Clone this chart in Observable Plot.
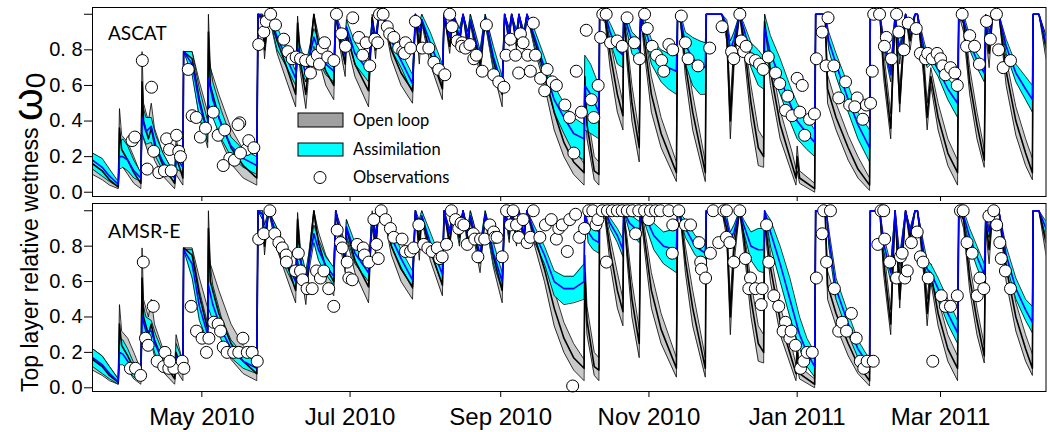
<!DOCTYPE html>
<html><head><meta charset="utf-8">
<script src="https://cdn.jsdelivr.net/npm/d3@7"></script>
<script src="https://cdn.jsdelivr.net/npm/@observablehq/plot@0.6"></script>
<style>
html,body{margin:0;padding:0;background:#fff;}
#chart{position:relative;width:1050px;height:432px;overflow:hidden;background:#fff;}
#chart svg{position:absolute;left:0;}
</style></head><body><div id="chart"></div>
<script>
// Days since 17 Mar 2010
const startDate = Date.UTC(2010, 2, 17);
const endDay = 392.4;

// Open loop ensemble: [day, low, mean, high] (same model run in both panels)
const openLoop = [
[0,0.10,0.16,0.22],[4,0.07,0.12,0.18],[7,0.04,0.07,0.12],[10.6,0.02,0.03,0.05],
[11.1,0.25,0.36,0.47],[12,0.15,0.24,0.32],[14.5,0.10,0.18,0.28],[17,0.05,0.11,0.20],[19.9,0.02,0.05,0.10],
[20.4,0.45,0.62,0.79],[21,0.30,0.40,0.50],[23,0.22,0.30,0.40],[24.2,0.25,0.36,0.50],[25.5,0.18,0.27,0.36],[29,0.09,0.15,0.22],[33.8,0.02,0.05,0.10],
[34.4,0.10,0.20,0.30],[37.2,0.04,0.08,0.14],
[37.5,0.79,0.79,0.79],[41,0.68,0.75,0.79],[44,0.42,0.52,0.62],[47.4,0.25,0.33,0.45],
[47.7,0.80,0.90,1.00],[48.5,0.50,0.60,0.70],[52,0.32,0.42,0.55],[57,0.16,0.25,0.36],[62,0.08,0.15,0.24],[67.6,0.04,0.08,0.13],
[68.1,1,1,1],[70,0.95,0.98,1],[70.8,0.75,0.80,0.90],[72.5,1,1,1],[76,0.78,0.85,0.90],[80,0.62,0.70,0.77],[83.6,0.48,0.55,0.62],
[84.4,0.90,0.95,0.99],[85.5,0.68,0.74,0.80],[87.8,0.47,0.55,0.62],
[91.1,1,1,1],[93,0.75,0.82,0.88],[96,0.60,0.68,0.75],[99.3,0.52,0.60,0.67],
[100.1,1,1,1],[102,0.80,0.85,0.90],[104,0.65,0.72,0.78],[104.5,0.85,0.90,0.95],[108,0.65,0.72,0.78],[113.6,0.48,0.57,0.64],
[115.1,0.95,0.98,1],[116.5,0.75,0.80,0.85],[117.8,1,1,1],[119.5,1,1,1],[123,0.75,0.80,0.86],[127,0.60,0.67,0.73],[131.7,0.50,0.57,0.63],
[132.9,1,1,1],[134.5,0.72,0.80,0.88],[135.5,0.95,0.97,1],[139,0.72,0.78,0.84],[144,0.52,0.58,0.65],
[144.7,1,1,1],[147,0.78,0.82,0.88],[148.5,1,1,1],[151,0.80,0.85,0.90],[152.5,1,1,1],[154.5,0.78,0.84,0.90],[155.5,0.95,0.97,1],[159.5,0.65,0.72,0.78],
[161.6,0.95,0.98,1],[165,0.68,0.74,0.80],[168.6,0.48,0.55,0.62],
[169.6,1,1,1],[171.5,0.82,0.87,0.92],[172.5,1,1,1],[174.5,0.80,0.85,0.90],[175.5,1,1,1],[177.5,0.80,0.85,0.90],[178.8,1,1,1],
[182,0.80,0.85,0.90],[186,0.60,0.67,0.74],[190,0.35,0.45,0.55],[194,0.20,0.28,0.37],[198,0.10,0.17,0.25],[202.3,0.04,0.11,0.16],
[202.6,0.55,0.65,0.75],[203.5,0.30,0.38,0.46],[206.5,0.07,0.12,0.20],[208.4,0.04,0.10,0.17],
[208.7,1,1,1],[211,0.95,0.98,1],[213,0.70,0.78,0.85],[216,0.45,0.55,0.65],[218.3,0.35,0.43,0.50],
[218.6,1,1,1],[220,0.72,0.78,0.85],[222,0.40,0.50,0.60],[225,0.17,0.25,0.33],
[225.6,1,1,1],[227,0.80,0.86,0.92],[230,0.45,0.55,0.65],[234,0.25,0.33,0.42],[240.3,0.06,0.11,0.17],
[240.8,1,1,1],[242,0.95,0.98,1],[244,0.65,0.72,0.80],[247,0.35,0.45,0.55],[252.2,0.06,0.11,0.17],
[252.6,1,1,1],[259,1,1,1],[261,0.85,0.90,0.95],[262.5,0.30,0.40,0.50],[264,0.70,0.78,0.85],
[266.3,1,1,1],[268,0.80,0.86,0.90],[271,0.40,0.50,0.60],[274,0.15,0.25,0.35],[276.2,0.14,0.20,0.30],
[276.6,0.92,0.96,1],[279,0.60,0.68,0.76],[283,0.30,0.38,0.46],[288,0.10,0.15,0.22],[289.5,0.04,0.08,0.13],[290,0.12,0.20,0.26],[291,0.05,0.08,0.12],[297.2,0.00,0.02,0.05],
[297.6,1,1,1],[301.5,1,1,1],[302.5,0.50,0.58,0.66],[306,0.35,0.42,0.50],[311,0.18,0.25,0.32],[315,0.08,0.13,0.20],[319.8,0.01,0.04,0.08],
[320.1,1,1,1],[324,1,1,1],[325.5,0.65,0.72,0.80],[328.5,0.30,0.36,0.44],
[330.3,1,1,1],[332.2,0.45,0.50,0.58],[334.6,1,1,1],[336.5,0.80,0.85,0.90],[338.5,1,1,1],[339.5,1,1,1],
[342,0.65,0.72,0.80],[343.5,0.35,0.42,0.50],[345,0.60,0.65,0.70],[348,0.35,0.42,0.50],[352,0.15,0.22,0.30],[356,0.04,0.11,0.18],
[356.5,1,1,1],[358.5,0.90,0.95,1],[361,0.55,0.62,0.70],[364,0.30,0.38,0.45],[367,0.14,0.18,0.24],
[367.6,0.90,0.95,1],[369,0.70,0.78,0.85],[370.5,1,1,1],[373,1,1,1],[376,0.60,0.68,0.75],[380,0.32,0.40,0.48],[384,0.15,0.22,0.30],[386.8,0.07,0.11,0.19],
[387.1,1,1,1],[389.5,1,1,1],[392.4,0.75,0.82,0.88]
];

// Assimilation of ASCAT: [day, low, mean, high]
const assimASCAT = [
[0,0.13,0.18,0.22],[4,0.09,0.14,0.19],[7,0.06,0.09,0.13],[10.6,0.03,0.045,0.06],
[11.1,0.13,0.20,0.28],[12.5,0.14,0.20,0.30],[14.5,0.12,0.18,0.26],[17,0.08,0.12,0.18],[19.9,0.06,0.08,0.11],
[20.4,0.33,0.42,0.50],[22,0.27,0.34,0.42],[24.2,0.28,0.37,0.42],[26,0.20,0.26,0.32],[29,0.12,0.17,0.22],[33.8,0.06,0.08,0.10],
[34.4,0.13,0.20,0.27],[37.2,0.11,0.14,0.18],
[37.5,0.79,0.79,0.79],[41,0.66,0.72,0.79],[44,0.42,0.50,0.58],[47.4,0.28,0.33,0.40],
[47.7,0.50,0.64,0.78],[49.5,0.42,0.52,0.62],[53,0.30,0.38,0.46],[57,0.20,0.26,0.31],[62,0.14,0.19,0.24],[67.6,0.10,0.15,0.20],
[68.1,1,1,1],[70,0.97,0.99,1],[70.8,0.85,0.90,0.95],[72.5,1,1,1],[76,0.80,0.87,0.93],[80,0.70,0.75,0.80],[83.6,0.60,0.64,0.68],
[84.4,0.75,0.81,0.87],[85.5,0.70,0.76,0.82],[87.8,0.62,0.67,0.72],
[91.1,0.82,0.87,0.92],[93,0.74,0.80,0.86],[96,0.66,0.72,0.78],[99.3,0.62,0.68,0.73],
[100.1,1,1,1],[102,0.82,0.88,0.93],[104,0.72,0.77,0.82],[104.5,0.88,0.93,0.97],[108,0.72,0.78,0.84],[113.6,0.62,0.68,0.72],
[115.1,0.90,0.95,0.98],[116.5,0.80,0.85,0.88],[117.8,1,1,1],[119.5,1,1,1],[123,0.80,0.85,0.90],[127,0.70,0.74,0.79],[131.7,0.56,0.61,0.66],
[132.9,1,1,1],[134.5,0.85,0.90,0.95],[135.5,0.95,0.97,1],[139,0.78,0.84,0.90],[144,0.60,0.66,0.72],
[144.7,1,1,1],[147,0.82,0.87,0.90],[148.5,1,1,1],[151,0.82,0.87,0.92],[152.5,1,1,1],[154.5,0.80,0.86,0.90],[155.5,0.95,0.97,1],[159.5,0.70,0.76,0.80],
[161.6,0.95,0.98,1],[165,0.70,0.76,0.82],[168.6,0.55,0.60,0.65],
[169.6,1,1,1],[171.5,0.84,0.88,0.92],[172.5,1,1,1],[174.5,0.82,0.87,0.91],[175.5,1,1,1],[177.5,0.82,0.87,0.91],[178.8,1,1,1],
[182,0.82,0.87,0.91],[186,0.64,0.70,0.76],[190,0.45,0.52,0.60],[194,0.33,0.42,0.50],[198,0.22,0.33,0.42],[202.3,0.18,0.30,0.38],
[202.6,0.35,0.60,0.77],[205,0.33,0.55,0.72],[208.4,0.30,0.45,0.60],
[208.7,1,1,1],[211,1,1,1],[213,0.85,0.90,0.95],[216,0.72,0.80,0.86],[218.3,0.70,0.77,0.84],
[218.6,1,1,1],[220,0.90,0.94,0.98],[222,0.78,0.85,0.90],[225,0.72,0.80,0.86],
[225.6,1,1,1],[227,0.90,0.94,0.98],[230,0.72,0.80,0.86],[234,0.62,0.73,0.80],[237,0.58,0.70,0.78],[240.3,0.55,0.68,0.80],
[240.8,1,1,1],[242,0.95,0.98,1],[244,0.72,0.83,0.90],[247,0.60,0.75,0.87],[250,0.55,0.72,0.85],[252.2,0.55,0.70,0.84],
[252.6,1,1,1],[259,1,1,1],[261,0.90,0.94,0.97],[262.5,0.75,0.80,0.85],[264,0.82,0.86,0.90],
[266.3,1,1,1],[268,0.88,0.92,0.95],[271,0.70,0.77,0.84],[274,0.60,0.72,0.80],[276.2,0.58,0.68,0.76],
[276.6,0.80,0.92,1],[279,0.68,0.78,0.88],[283,0.55,0.64,0.75],[287,0.40,0.50,0.60],[290,0.30,0.40,0.50],[294,0.24,0.33,0.42],[297.2,0.20,0.28,0.35],
[297.6,1,1,1],[301.5,1,1,1],[303,0.80,0.85,0.90],[306,0.65,0.72,0.78],[311,0.45,0.52,0.60],[315,0.30,0.38,0.45],[319.8,0.17,0.25,0.35],
[320.1,1,1,1],[324,1,1,1],[325.5,0.82,0.85,0.88],[328.5,0.62,0.66,0.70],
[330.3,1,1,1],[332.2,0.72,0.77,0.82],[334.6,1,1,1],[336.5,0.88,0.90,0.93],[338.5,1,1,1],[339.5,1,1,1],
[342,0.78,0.82,0.86],[343.5,0.70,0.74,0.78],[345,0.72,0.76,0.80],[348,0.65,0.69,0.74],[352,0.52,0.58,0.64],[356,0.42,0.50,0.58],
[356.5,1,1,1],[358.5,0.95,0.97,1],[361,0.80,0.84,0.88],[364,0.70,0.74,0.78],[367,0.62,0.67,0.72],
[367.6,0.90,0.95,1],[369,0.82,0.86,0.90],[370.5,1,1,1],[373,1,1,1],[376,0.78,0.82,0.86],[380,0.62,0.67,0.72],[384,0.52,0.58,0.65],[386.8,0.45,0.52,0.60],
[387.1,1,1,1],[389.5,1,1,1],[392.4,0.80,0.84,0.88]
];

// Assimilation of AMSR-E: [day, low, mean, high]
const assimAMSRE = [
[0,0.12,0.17,0.22],[4,0.08,0.13,0.18],[7,0.05,0.08,0.12],[10.6,0.02,0.035,0.05],
[11.1,0.13,0.20,0.28],[12.5,0.13,0.19,0.27],[14.5,0.10,0.15,0.22],[17,0.06,0.10,0.14],[19.9,0.04,0.06,0.09],
[20.4,0.30,0.40,0.50],[22,0.25,0.32,0.40],[24.2,0.26,0.32,0.38],[26,0.18,0.24,0.30],[29,0.11,0.15,0.20],[33.8,0.07,0.08,0.10],
[34.4,0.12,0.18,0.25],[37.2,0.08,0.11,0.15],
[37.5,0.78,0.78,0.78],[41,0.62,0.70,0.78],[44,0.38,0.46,0.55],[47.4,0.26,0.30,0.36],
[47.7,0.45,0.58,0.78],[49.5,0.38,0.47,0.58],[53,0.27,0.33,0.40],[57,0.17,0.22,0.27],[62,0.11,0.15,0.19],[67.6,0.08,0.11,0.15],
[68.1,1,1,1],[70,0.95,0.98,1],[70.8,0.80,0.86,0.92],[72.5,1,1,1],[76,0.78,0.84,0.90],[80,0.66,0.71,0.76],[83.6,0.56,0.60,0.64],
[84.4,0.72,0.78,0.84],[85.5,0.66,0.72,0.78],[87.8,0.56,0.61,0.66],
[91.1,0.82,0.87,0.92],[93,0.72,0.78,0.84],[96,0.64,0.69,0.74],[99.3,0.58,0.63,0.68],
[100.1,1,1,1],[102,0.82,0.87,0.92],[104,0.70,0.75,0.80],[104.5,0.86,0.91,0.95],[108,0.70,0.76,0.82],[113.6,0.60,0.65,0.70],
[115.1,0.90,0.95,0.98],[116.5,0.80,0.85,0.88],[117.8,1,1,1],[119.5,1,1,1],[123,0.80,0.85,0.90],[127,0.68,0.73,0.78],[131.7,0.56,0.61,0.66],
[132.9,1,1,1],[134.5,0.85,0.90,0.95],[135.5,0.95,0.97,1],[139,0.77,0.82,0.88],[144,0.58,0.64,0.70],
[144.7,1,1,1],[147,0.82,0.87,0.90],[148.5,1,1,1],[151,0.82,0.87,0.92],[152.5,1,1,1],[154.5,0.80,0.86,0.90],[155.5,0.95,0.97,1],[159.5,0.70,0.75,0.80],
[161.6,0.95,0.98,1],[165,0.70,0.76,0.82],[168.6,0.55,0.60,0.65],
[169.6,1,1,1],[171.5,0.84,0.88,0.92],[172.5,1,1,1],[174.5,0.82,0.87,0.91],[175.5,1,1,1],[177.5,0.82,0.87,0.91],[178.8,1,1,1],
[182,0.82,0.87,0.91],[186,0.70,0.75,0.80],[190,0.52,0.60,0.66],[194,0.47,0.56,0.63],[198,0.48,0.56,0.63],[202.3,0.50,0.60,0.70],
[202.6,1,1,1],[204,0.82,0.88,0.93],[206,0.78,0.84,0.90],[208.4,0.76,0.82,0.88],
[208.7,1,1,1],[211,1,1,1],[213,0.90,0.93,0.96],[216,0.82,0.86,0.90],[218.3,0.74,0.78,0.84],
[218.6,1,1,1],[221,0.88,0.93,0.98],[225,0.82,0.88,0.94],
[225.6,1,1,1],[228,0.90,0.95,1],[231,0.78,0.86,0.93],[235,0.70,0.80,0.88],[240.3,0.65,0.78,0.90],
[240.8,1,1,1],[244,0.85,0.90,0.95],[248,0.75,0.80,0.86],[252.2,0.70,0.76,0.82],
[252.6,1,1,1],[259,1,1,1],[261,0.90,0.94,0.97],[262.5,0.80,0.84,0.88],[264,0.85,0.88,0.92],
[266.3,1,1,1],[268,0.88,0.92,0.95],[271,0.72,0.80,0.88],[274,0.66,0.78,0.90],[276.2,0.65,0.78,0.90],
[276.6,1,1,1],[279,0.80,0.88,0.95],[283,0.60,0.70,0.80],[287,0.40,0.50,0.62],[291,0.22,0.30,0.40],[294,0.12,0.20,0.28],[297.2,0.06,0.12,0.20],
[297.6,1,1,1],[302,1,1,1],[303,0.80,0.85,0.90],[306,0.50,0.56,0.62],[311,0.30,0.36,0.42],[315,0.17,0.22,0.27],[319.8,0.08,0.12,0.16],
[320.1,1,1,1],[324,1,1,1],[325.5,0.78,0.82,0.86],[328.5,0.60,0.65,0.70],
[330.3,1,1,1],[332.2,0.65,0.70,0.75],[334.6,1,1,1],[336.5,0.85,0.88,0.90],[338.5,1,1,1],[339.5,1,1,1],
[342,0.72,0.77,0.82],[343.5,0.62,0.67,0.72],[345,0.60,0.65,0.70],[348,0.50,0.56,0.62],[352,0.36,0.42,0.50],[356,0.25,0.31,0.38],
[356.5,1,1,1],[358.5,0.95,0.97,1],[361,0.80,0.85,0.90],[364,0.68,0.74,0.80],[367,0.58,0.64,0.70],
[367.6,0.90,0.95,1],[369,0.85,0.88,0.90],[370.5,1,1,1],[373,1,1,1],[376,0.70,0.75,0.80],[380,0.50,0.56,0.62],[384,0.38,0.44,0.50],[386.8,0.31,0.37,0.46],
[387.1,1,1,1],[389.5,1,1,1],[392.4,0.85,0.90,0.94]
];

// Observations: [day, relative wetness]
const obsASCAT = [
[20.5,0.74],[24.3,0.59],[16.3,0.29],[17.4,0.31],[22.5,0.13],[25.2,0.23],[30.5,0.30],[31.7,0.24],[27.3,0.11],[29.6,0.12],[32.4,0.12],[34.6,0.32],[35.5,0.23],[36.2,0.20],
[39.4,0.69],[41.0,0.43],[42.7,0.42],[44.4,0.31],[46.5,0.36],[49.7,0.45],[51.7,0.32],[54.4,0.35],[56.5,0.19],[58.4,0.18],[53.8,0.15],[60.6,0.39],[59.9,0.38],[63.4,0.24],[64.3,0.29],[66.4,0.25],[60.9,0.22],
[68.4,0.83],[70.5,0.90],[71.5,0.96],[73.3,1.00],[75.3,0.94],[78.7,0.86],[80.4,0.79],[82.2,0.75],[83.8,0.76],[85.6,0.75],[87.7,0.74],[89.7,0.67],[90.4,0.74],[92.5,0.77],[93.4,0.72],[94.5,0.81],[95.5,0.84],[96.8,0.76],[99.3,0.74],
[100.4,1.00],[102.5,0.89],[104.1,0.82],[107.1,0.98],[109.6,0.87],[111.2,0.77],[112.6,0.84],[114.1,0.71],[116.2,0.86],[117.4,0.84],[118.1,1.00],[119.6,1.00],[121.3,0.93],[122.3,0.89],[124.0,0.87],[126.0,0.81],[127.7,0.79],
[128.8,0.84],[128.4,0.78],[130.9,0.81],[132.9,0.96],[135.7,0.81],[138.4,0.81],[140.5,0.73],[142.5,0.69],[145.0,0.66],[147.0,1.00],[148.0,0.93],[150.1,0.85],[152.1,0.84],[151.9,0.82],[153.5,0.81],[155.3,0.83],[156.9,0.75],[158.0,0.77],[160.4,0.68],
[162.1,0.94],[165.1,0.66],[167.2,0.62],[169.3,0.59],[170.2,0.77],[172.0,0.86],[174.1,0.77],[175.4,0.67],[176.1,0.89],[177.2,0.84],[179.1,0.77],[180.2,0.68],[181.4,0.95],[182.3,0.77],[184.4,0.64],[187.1,0.69],[186.1,0.57],[189.2,0.62],[190.9,0.60],
[194.4,0.49],[196.3,0.42],[199.1,0.68],[201.2,0.45],[198.1,0.22],[203.2,0.91],[205.3,0.52],[206.3,0.42],[208.1,0.60],[209.1,0.87],[210.0,1.00],[211.4,1.00],[213.2,0.84],[215.9,0.85],[218.0,0.82],[220.0,0.98],[223.0,0.84],[225.1,0.75],
[227.2,1.00],[228.3,0.92],[230.3,0.82],[232.1,0.77],[234.2,0.74],[235.1,0.68],[237.2,0.83],[238.8,0.80],[242.3,0.99],[244.0,0.84],[245.1,0.75],[249.2,0.71],[254.0,0.81],
[259.1,0.93],[266.4,1.00],[267.0,0.85],[263.0,0.79],[263.9,0.75],[268.0,0.79],[269.0,0.82],[270.8,0.75],[272.8,0.74],[274.5,0.72],[276.0,0.69],[278.1,0.76],[281.1,0.67],[282.8,0.61],[286.1,0.54],[285.2,0.46],[287.9,0.43],[291.1,0.45],[290.0,0.64],[292.1,0.60],[293.1,0.32],[295.1,0.41],[297.1,0.44],
[297.9,0.75],[300.3,0.90],[302.7,0.98],[301.9,0.71],[305.1,0.71],[309.9,0.62],[307.1,0.53],[311.6,0.49],[314.7,0.53],[313.7,0.48],[317.0,0.41],[318.5,0.49],
[320.2,0.50],[320.9,0.68],[321.5,1.00],[323.9,1.00],[326.7,0.87],[325.9,0.82],[328.8,0.75],[330.9,1.00],[331.8,0.90],[333.9,0.80],[335.7,0.95],[339.0,0.92],[340.7,0.78],[342.8,0.75],[343.7,0.78],[345.6,0.75],[347.6,0.78],[349.0,0.75],[349.9,0.71],[351.0,0.66],[353.1,0.70],[354.9,0.67],[355.9,0.60],
[357.9,1.00],[361.0,0.88],[359.7,0.82],[363.0,0.82],[365.0,0.72],[367.9,0.96],[369.5,0.86],[372.0,1.00],[372.9,0.80],[374.8,0.70],[377.8,0.74]
];

const obsAMSRE = [
[20.9,0.71],[25.0,0.46],[21.8,0.28],[22.9,0.24],[26.6,0.15],[15.6,0.11],[17.7,0.11],[19.8,0.07],[29.3,0.12],[31.4,0.11],[33.5,0.11],[29.8,0.20],[31.8,0.15],[36.9,0.15],[37.6,0.11],
[40.6,0.46],[42.8,0.32],[45.1,0.28],[46.9,0.20],[47.9,0.28],[49.9,0.37],[51.7,0.36],[52.7,0.32],[53.8,0.23],[55.4,0.20],[58.1,0.20],[60.2,0.20],[61.9,0.28],[63.7,0.20],[65.7,0.20],[67.8,0.15],
[68.4,0.84],[70.5,0.87],[73.0,1.00],[75.0,0.87],[76.7,0.82],[78.1,0.79],[79.7,0.75],[79.8,0.71],[84.7,0.76],[83.5,0.66],[85.6,0.66],[86.5,0.61],[88.3,0.56],[90.4,0.56],[92.2,0.66],[93.8,0.62],[95.2,0.66],[97.2,0.56],[99.3,0.46],
[100.7,0.89],[102.1,0.82],[102.8,0.79],[104.8,0.71],[105.5,0.62],[106.9,0.61],[108.9,0.81],[111.4,0.79],[111.9,0.75],[113.7,0.71],[115.8,0.95],[116.9,0.81],[117.6,0.73],[118.8,1.00],[120.6,0.95],[122.6,0.90],[124.0,0.85],
[127.4,0.84],[128.8,0.77],[130.9,0.77],[132.2,0.79],[134.3,0.92],[136.3,0.81],[138.0,0.79],[139.8,0.77],[141.9,0.79],[142.9,0.73],[143.9,0.74],[145.7,0.81],[147.7,1.00],[149.4,0.95],[150.7,0.90],[151.7,0.93],[152.8,0.92],[154.2,0.81],[156.7,0.87],[157.3,0.84],[158.6,0.74],[159.7,0.84],
[161.4,0.84],[163.5,0.92],[165.1,0.88],[165.6,0.85],[166.5,0.85],[168.6,0.74],[170.4,1.00],[173.1,1.00],[172.0,0.92],[174.5,0.92],[175.4,0.85],[177.2,0.95],[178.9,0.82],[180.2,0.85],[181.4,1.00],[184.1,0.85],[186.4,0.92],[188.8,0.95],[190.9,0.84],[191.9,0.90],[193.3,0.92],[195.4,0.77],[196.4,0.95],[198.8,0.98],[197.6,0.01],
[200.5,0.85],[202.5,0.90],[204.2,1.00],[205.9,1.00],[207.2,0.92],[208.0,0.95],[211.5,0.71],[209.8,1.00],[211.9,1.00],[213.9,1.00],[216.0,1.00],[218.0,1.00],[220.1,1.00],[222.2,1.00],[223.5,0.87],[224.8,1.00],[227.2,1.00],[228.9,0.95],[229.6,1.00],[231.7,1.00],[233.7,1.00],[237.2,1.00],[238.8,0.92],[241.3,1.00],[244.0,0.92],[238.6,0.76],
[246.1,0.92],[249.6,0.82],[250.3,0.71],[250.6,0.67],[252.3,0.62],[254.3,0.76],[255.4,1.00],[259.8,1.00],[260.9,1.00],[257.7,0.82],[260.9,0.85],[262.3,0.82],[263.9,0.71],[266.4,1.00],[268.7,0.73],[270.8,0.62],[270.1,0.56],[272.8,0.56],[275.6,0.56],[275.2,0.47],
[277.4,0.92],[278.3,0.71],[280.4,0.52],[282.4,0.46],[285.2,0.37],[284.2,0.32],[287.0,0.28],[287.5,0.32],[289.3,0.24],[291.4,0.11],[292.7,0.15],[294.1,0.20],[296.2,0.20],
[297.9,0.62],[300.3,0.87],[302.1,0.71],[300.9,1.00],[303.7,1.00],[305.3,0.56],[307.1,0.32],[308.5,0.37],[310.3,0.32],[312.3,0.42],[314.3,0.28],[316.0,0.15],[317.4,0.11],[318.8,0.15],[321.3,0.15],
[324.5,1.00],[325.6,1.00],[323.2,0.81],[326.0,0.84],[328.1,0.71],[330.9,0.62],[332.5,0.74],[333.2,0.76],[334.3,0.62],[335.3,0.66],[337.0,0.82],[339.4,0.88],[340.7,0.74],[341.8,0.71],[343.9,0.62],[345.8,0.15],[349.3,0.52],[351.0,0.46],[353.1,0.46],[355.9,0.52],
[357.2,1.00],[358.3,1.00],[359.9,0.82],[362.0,0.76],[364.1,0.52],[365.2,0.62],[366.8,0.56],[368.9,0.97],[370.9,1.00],[372.1,0.92],[373.4,0.82],[374.0,0.73],[375.7,0.66],[377.8,0.56]
];

const yTicks = [0, 0.2, 0.4, 0.6, 0.8, 1.0];
const yTickLabels = ["0. 0", "0. 2", "0. 4", "0. 6", "0. 8", ""];
const xTickDates = ["2010-05-01", "2010-07-01", "2010-09-01", "2010-11-01", "2011-01-01", "2011-03-01"];
const xTickLabels = ["May 2010", "Jul 2010", "Sep 2010", "Nov 2010", "Jan 2011", "Mar 2011"];
const panelNames = ["ASCAT", "AMSR-E"];
const legendLabels = ["Open loop", "Assimilation", "Observations"];

const toDate = d => new Date(startDate + d * 864e5);
const xTicks = xTickDates.map(s => new Date(s + "T00:00:00Z"));
const xDomain = [toDate(0), toDate(endDay)];
const band = rows => rows.map(([d, lo, mid, hi]) => ({date: toDate(d), lo, mid, hi}));
const pts = rows => rows.map(([d, v]) => ({date: toDate(d), v}));

function panel(assim, obs, o) {
  const ol = band(openLoop), as = band(assim), ob = pts(obs);
  return Plot.plot({
    width: 1050, height: o.height,
    marginLeft: 92, marginRight: 4.5, marginTop: o.marginTop, marginBottom: o.marginBottom,
    style: {background: "transparent", fontFamily: "'Liberation Sans', Arial, sans-serif", color: "black", overflow: "visible"},
    x: {type: "utc", domain: xDomain},
    y: {domain: o.yDomain},
    marks: [
      Plot.areaY(ol, {x: "date", y1: "lo", y2: "hi", fill: "#c9c9c9", clip: true}),
      Plot.lineY(ol, {x: "date", y: "lo", stroke: "black", strokeWidth: 0.8, clip: true}),
      Plot.lineY(ol, {x: "date", y: "hi", stroke: "black", strokeWidth: 0.8, clip: true}),
      Plot.areaY(as, {x: "date", y1: "lo", y2: "hi", fill: "#00ffff", clip: true}),
      Plot.lineY(as, {x: "date", y: "lo", stroke: "black", strokeWidth: 0.8, clip: true}),
      Plot.lineY(as, {x: "date", y: "hi", stroke: "black", strokeWidth: 0.8, clip: true}),
      Plot.lineY(ol, {x: "date", y: "mid", stroke: "black", strokeWidth: 1.6, clip: true}),
      Plot.lineY(as, {x: "date", y: "mid", stroke: "#0000ff", strokeWidth: 1.6, clip: true}),
      Plot.dot(ob, {x: "date", y: "v", r: 6, fill: "white", stroke: "black", strokeWidth: 1}),
      Plot.axisY({ticks: yTicks, tickSize: 8, tickPadding: 2, fontSize: 20, label: null,
        tickFormat: d => yTickLabels[yTicks.findIndex(t => Math.abs(t - d) < 1e-9)]}),
      Plot.axisX({ticks: xTicks, tickSize: o.showX ? 6 : 5, tickPadding: 10, fontSize: 24, label: null,
        tickFormat: d => o.showX ? xTickLabels[xTicks.findIndex(t => +t === +d)] : ""}),
      Plot.frame({stroke: "black", strokeWidth: 1})
    ]
  });
}

const chart = document.getElementById("chart");
const top1 = panel(assimASCAT, obsASCAT, {height: 203, marginTop: 7, marginBottom: 7, yDomain: [-0.024, 1.038], showX: false});
top1.style.top = "0px";
const bot = panel(assimAMSRE, obsAMSRE, {height: 232, marginTop: 3, marginBottom: 41, yDomain: [-0.021, 1.041], showX: true});
bot.style.top = "200px";
chart.appendChild(top1);
chart.appendChild(bot);

// Overlay: axis title, panel names and legend
const ov = d3.select(chart).append("svg")
  .attr("width", 1050).attr("height", 432).style("top", "0px")
  .style("pointer-events", "none");

const title = ov.append("text")
  .attr("transform", "translate(38,392) rotate(-90)")
  .attr("font-family", "'Liberation Sans', Arial, sans-serif")
  .attr("font-size", 23).attr("fill", "black");
title.append("tspan").text("Top layer relative wetness ");
title.append("tspan").attr("font-size", 42).attr("dy", 4).text("\u03c9");
title.append("tspan").attr("font-size", 28).attr("dy", 3).text("0");

const lato = "Lato, 'Open Sans', sans-serif";
ov.append("text").attr("x", 108).attr("y", 40).attr("font-family", lato).attr("font-size", 19).text(panelNames[0]);
ov.append("text").attr("x", 108).attr("y", 237.5).attr("font-family", lato).attr("font-size", 19.5).text(panelNames[1]);

ov.append("rect").attr("x", 298).attr("y", 113).attr("width", 45).attr("height", 14)
  .attr("fill", "#a0a0a0").attr("stroke", "black").attr("stroke-width", 1);
ov.append("rect").attr("x", 298).attr("y", 143).attr("width", 45).attr("height", 13)
  .attr("fill", "#00ffff").attr("stroke", "black").attr("stroke-width", 1);
ov.append("circle").attr("cx", 320).attr("cy", 177.5).attr("r", 6)
  .attr("fill", "white").attr("stroke", "black").attr("stroke-width", 1);
[126, 155, 183].forEach((y, i) => {
  ov.append("text").attr("x", 353).attr("y", y).attr("font-family", lato)
    .attr("font-size", 16.5).text(legendLabels[i]);
});
</script></body></html>
